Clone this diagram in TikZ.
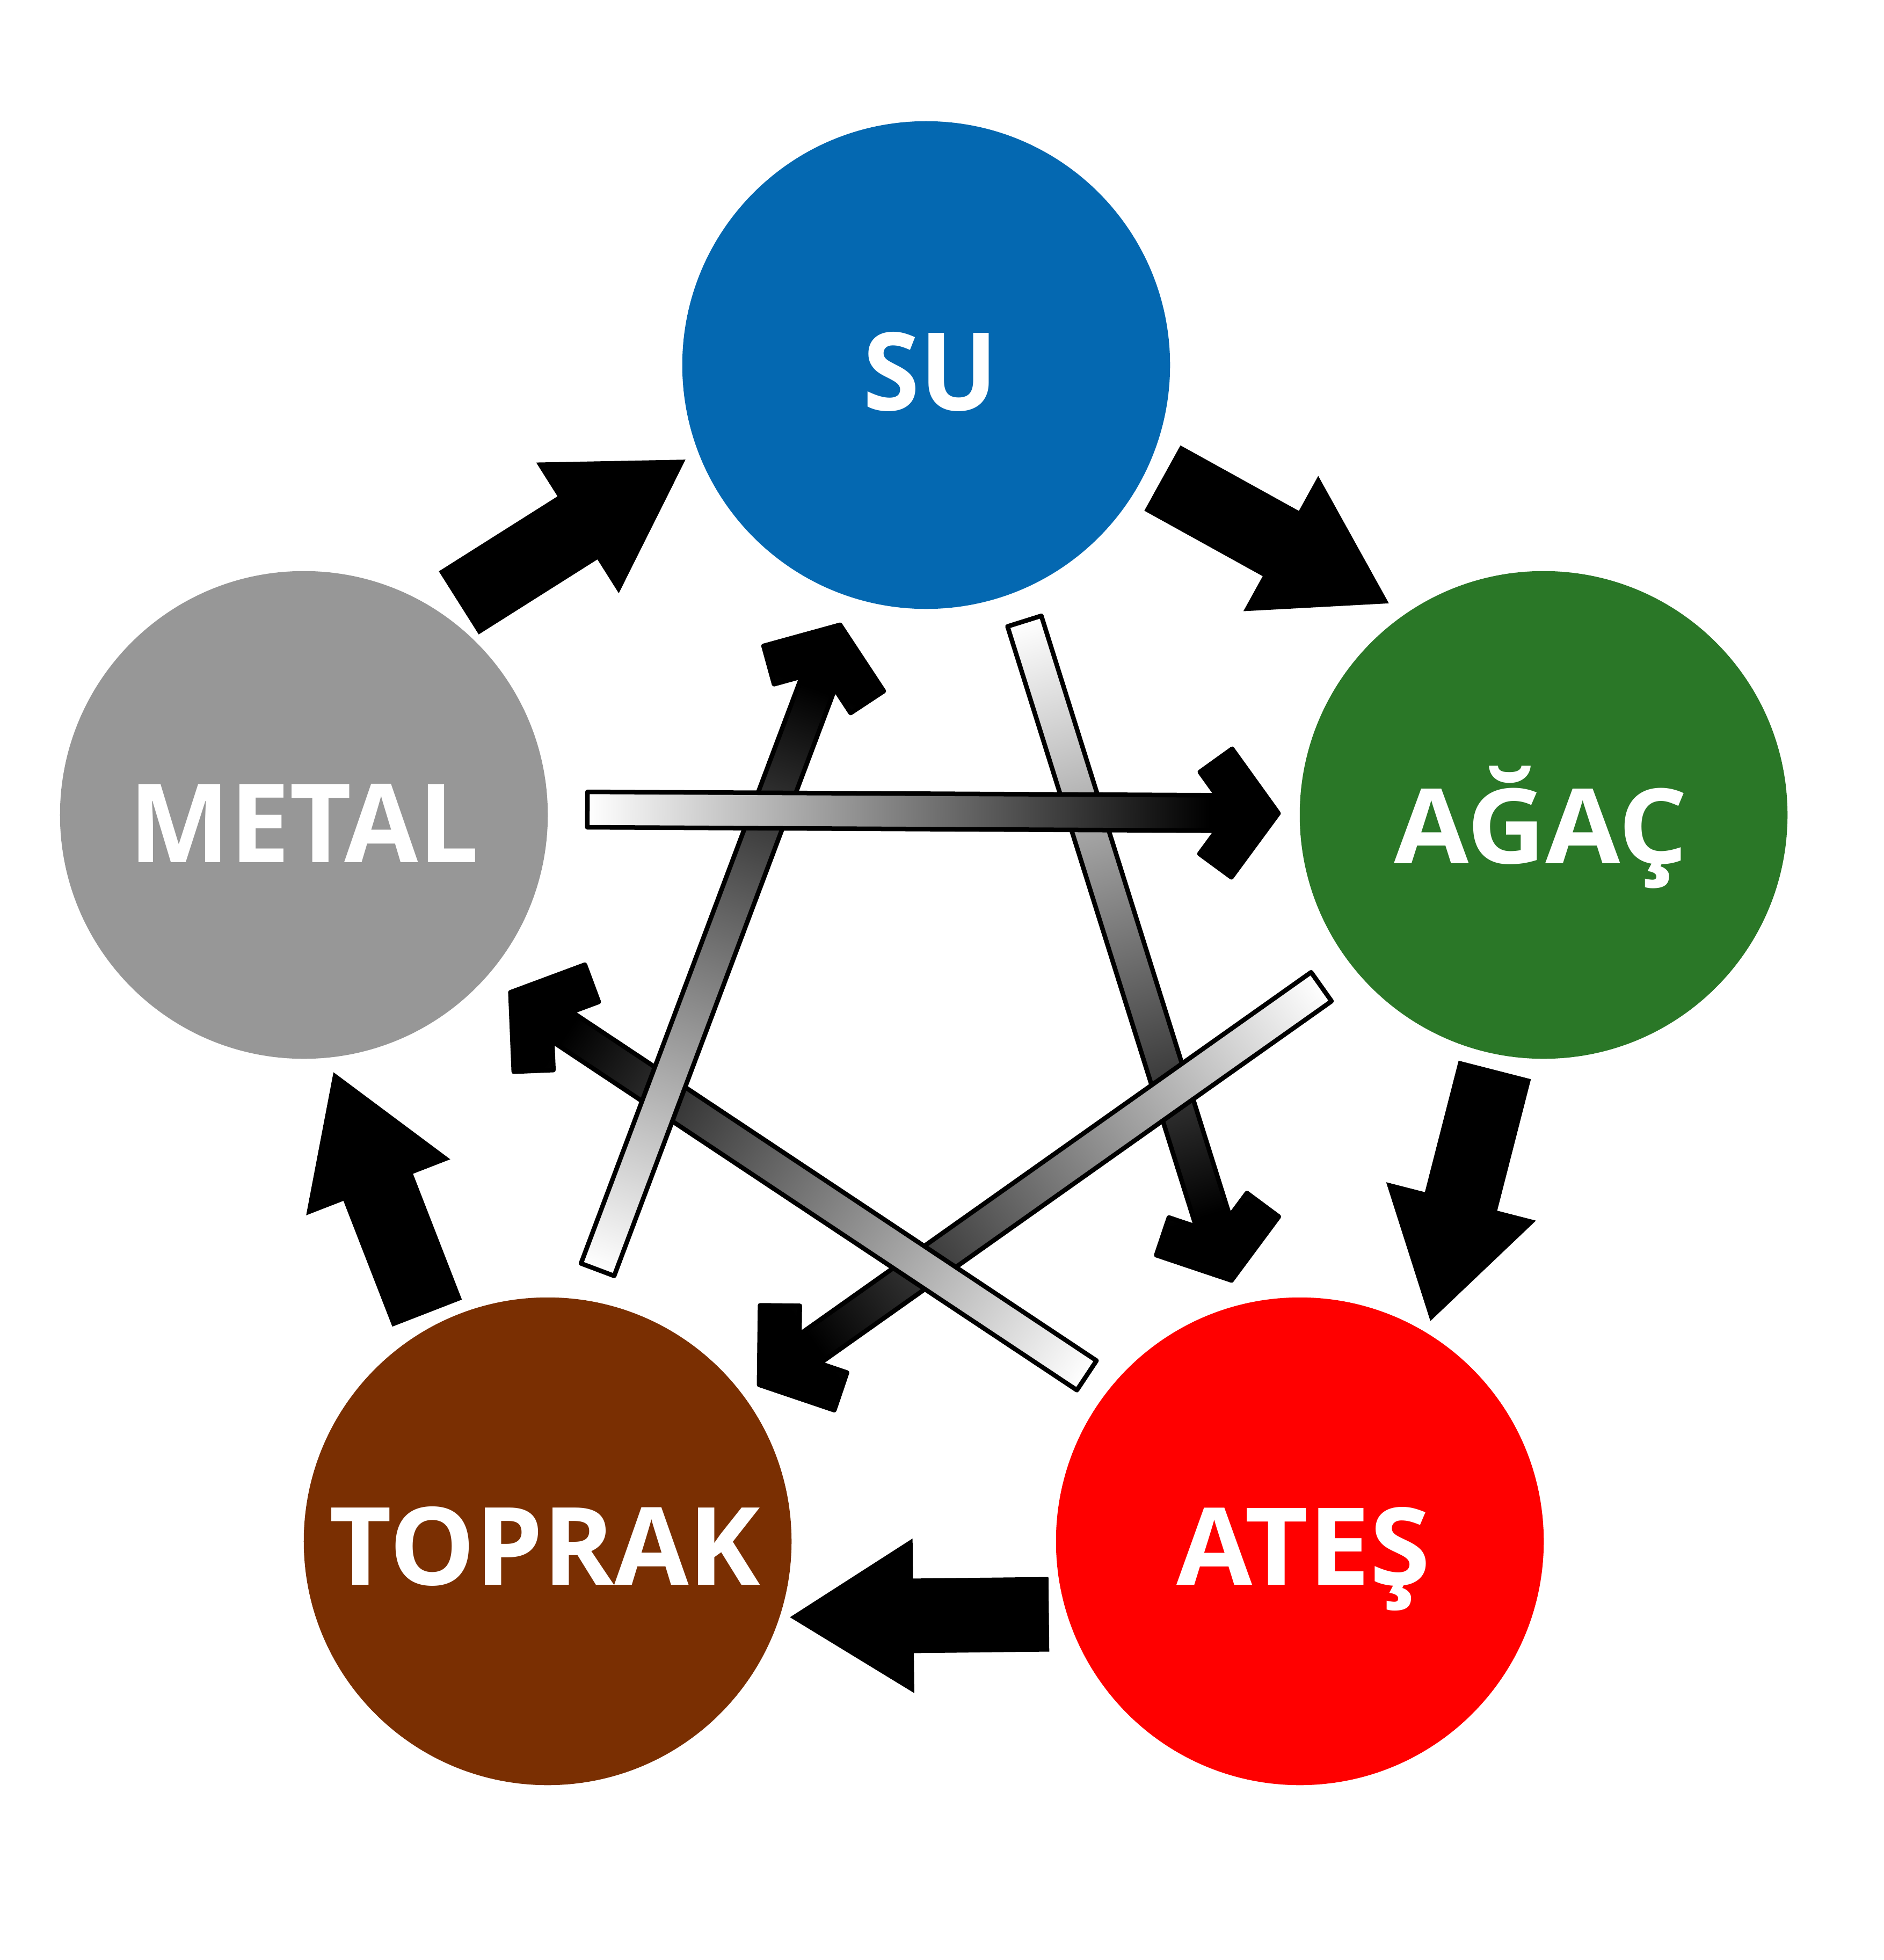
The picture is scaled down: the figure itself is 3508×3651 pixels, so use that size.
\documentclass[tikz,border=0pt]{standalone}
\usepackage{fontspec}
\usepackage{graphicx}
\newfontfamily\labfont{Open Sans}
\usetikzlibrary{calc}
\definecolor{sucol}{HTML}{0468B1}
\definecolor{agaccol}{HTML}{2A7727}
\definecolor{atescol}{HTML}{FF0000}
\definecolor{toprakcol}{HTML}{7A2F02}
\definecolor{metalcol}{HTML}{979797}
\pgfdeclarehorizontalshading{barshade}{100bp}{color(0bp)=(white); color(25bp)=(white); color(70bp)=(black); color(100bp)=(black)}
% length (in px of 0.01cm) and angle from #1 to #2
\newcommand\getvec[2]{%
  \path let \p1=($(#2)-(#1)$) in \pgfextra{%
    \pgfmathparse{veclen(\x1,\y1)/0.284528}\xdef\vlen{\pgfmathresult}%
    \pgfmathparse{atan2(\y1,\x1)}\xdef\vang{\pgfmathresult}};%
}
% thick black block arrow from tail #1 to tip #2, head length #3
\newcommand\outerarrow[3]{%
  \getvec{#1}{#2}%
  \begin{scope}[shift={(#1)}, rotate=\vang, x=0.01cm, y=0.01cm]
    \fill[black] (0,-69.5) -- ({\vlen-#3},-69.5) -- ({\vlen-#3},-144) -- (\vlen,0)
      -- ({\vlen-#3},144) -- ({\vlen-#3},69.5) -- (0,69.5) -- cycle;
  \end{scope}%
}
% gradient bar with chevron head from tail #1 to tip #2
\newcommand\innerarrow[2]{%
  \getvec{#1}{#2}%
  \begin{scope}[transform canvas={shift={(#1)}, rotate=\vang}]
    \shade[shading=barshade, draw=black, line width=0.085cm, line join=round, x=0.01cm, y=0.01cm]
      (0,-33) -- ({\vlen-115.5},-33) -- ({\vlen-146.9},-76.2) -- ({\vlen-87},-119.7) -- (\vlen,0)
      -- ({\vlen-87},119.7) -- ({\vlen-146.9},76.2) -- ({\vlen-115.5},33) -- (0,33) -- cycle;
  \end{scope}%
}
\newcommand\fitlab[3]{\resizebox{#1cm}{#2cm}{#3}}
\tikzset{
  elem/.style={circle, minimum size=9.08cm, inner sep=0pt, draw=none},
  lab/.style={text=white, inner sep=0pt, anchor=base,
    font=\labfont\bfseries\fontsize{59pt}{60pt}\selectfont}
}
\begin{document}
\begin{tikzpicture}[x=0.01cm, y=-0.01cm]
\useasboundingbox (0,0) rectangle (3508,3651);
\fill[white] (0,0) rectangle (3508,3651);
% circles
\node[elem, fill=sucol]     (su)     at (1725,680)  {};
\node[elem, fill=agaccol]   (agac)   at (2875,1518) {};
\node[elem, fill=atescol]   (ates)   at (2421,2871) {};
\node[elem, fill=toprakcol] (toprak) at (1020,2871) {};
\node[elem, fill=metalcol]  (metal)  at (566,1518)  {};
% outer cycle arrow ends
\coordinate (o1t) at (854.5,1123);  \coordinate (o1p) at (1277,856);
\coordinate (o2t) at (2165,890.5);  \coordinate (o2p) at (2587,1124);
\coordinate (o3t) at (2784,1993);   \coordinate (o3p) at (2664,2461);
\coordinate (o4t) at (1953.5,3007); \coordinate (o4p) at (1471,3012.5);
\coordinate (o5t) at (795.5,2446);  \coordinate (o5p) at (621,1997);
\outerarrow{o1t}{o1p}{238}
\outerarrow{o2t}{o2p}{230}
\outerarrow{o3t}{o3p}{230}
\outerarrow{o4t}{o4p}{230}
\outerarrow{o5t}{o5p}{230}
% inner star arrow ends
\coordinate (i1t) at (1094,1508); \coordinate (i1p) at (2382,1515);
\coordinate (i2t) at (1908,1157); \coordinate (i2p) at (2294,2386);
\coordinate (i3t) at (2461,1838); \coordinate (i3p) at (1413,2580);
\coordinate (i4t) at (2024,2562); \coordinate (i4p) at (950,1848);
\coordinate (i5t) at (1113,2365); \coordinate (i5p) at (1565,1163);
\innerarrow{i2t}{i2p}
\innerarrow{i3t}{i3p}
\innerarrow{i4t}{i4p}
\innerarrow{i5t}{i5p}
\innerarrow{i1t}{i1p}
% labels
\node[lab] (tsu)     at (1733,764)  {\fitlab{2.50}{1.46}{SU}};
\node[lab] (tagac)   at (2870,1608) {\fitlab{5.46}{1.815}{AĞAÇ}};
\node[lab] (tates)   at (2428,2952) {\fitlab{4.72}{1.45}{ATEŞ}};
\node[lab] (ttoprak) at (1015,2952) {\fitlab{8.02}{1.46}{TOPRAK}};
\node[lab] (tmetal)  at (566,1606)  {\fitlab{6.51}{1.46}{METAL}};
\end{tikzpicture}
\end{document}
